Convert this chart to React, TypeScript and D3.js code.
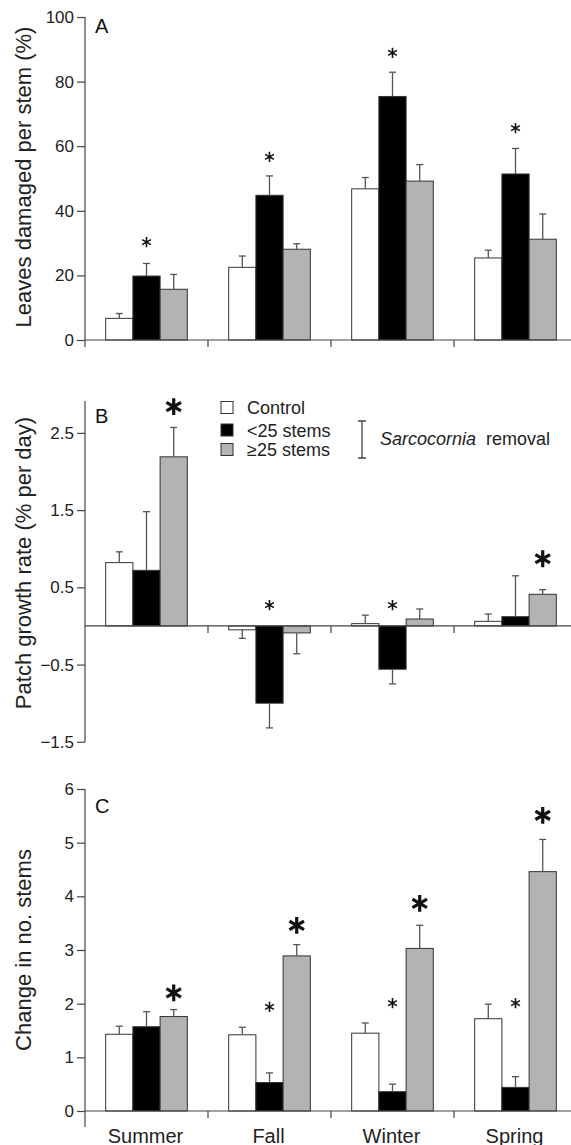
import { useEffect, useRef } from "react";
import * as d3 from "d3";

const seasons = ["Summer", "Fall", "Winter", "Spring"];
const groups = ["Control", "<25 stems", "≥25 stems"];
const groupFill = ["#ffffff", "#000000", "#b3b3b3"];

// A: leaves damaged per stem (%)
const leavesControl = [6.7, 22.5, 46.8, 25.4];
const leavesLow = [19.8, 44.8, 75.4, 51.4];
const leavesHigh = [15.7, 28.1, 49.2, 31.2];
const leavesControlErr = [1.5, 3.5, 3.5, 2.4];
const leavesLowErr = [3.9, 6.0, 7.5, 7.9];
const leavesHighErr = [4.6, 1.7, 5.1, 7.8];

// B: patch growth rate (% per day)
const growthControl = [0.82, -0.05, 0.03, 0.06];
const growthLow = [0.72, -1.0, -0.56, 0.12];
const growthHigh = [2.19, -0.09, 0.09, 0.41];
const growthControlErr = [0.14, 0.11, 0.11, 0.095];
const growthLowErr = [0.76, 0.32, 0.19, 0.53];
const growthHighErr = [0.38, 0.27, 0.13, 0.06];

// C: change in no. stems
const stemsControl = [1.43, 1.42, 1.45, 1.72];
const stemsLow = [1.57, 0.53, 0.36, 0.44];
const stemsHigh = [1.76, 2.89, 3.03, 4.46];
const stemsControlErr = [0.15, 0.14, 0.19, 0.27];
const stemsLowErr = [0.28, 0.18, 0.14, 0.2];
const stemsHighErr = [0.13, 0.21, 0.43, 0.6];

// significance marks: [season, group index, height in data units, big]
type Star = [string, number, number, boolean];
const leavesStars: Star[] = [
  ["Summer", 1, 30.3, false],
  ["Fall", 1, 56.7, false],
  ["Winter", 1, 88.9, false],
  ["Spring", 1, 65.6, false],
];
const growthStars: Star[] = [
  ["Summer", 2, 2.84, true],
  ["Fall", 1, 0.27, false],
  ["Winter", 1, 0.27, false],
  ["Spring", 2, 0.87, true],
];
const stemsStars: Star[] = [
  ["Summer", 2, 2.2, true],
  ["Fall", 1, 1.94, false],
  ["Fall", 2, 3.46, true],
  ["Winter", 1, 2.01, false],
  ["Winter", 2, 3.87, true],
  ["Spring", 1, 2.01, false],
  ["Spring", 2, 5.51, true],
];

const leavesTicks = [0, 20, 40, 60, 80, 100];
const growthTicks = [-1.5, -0.5, 0.5, 1.5, 2.5];
const stemsTicks = [0, 1, 2, 3, 4, 5, 6];

const FONT = "'Liberation Sans', Arial, Helvetica, sans-serif";
const W = 571;
const H = 1145;

export default function App() {
  const svgRef = useRef<SVGSVGElement>(null);

  useEffect(() => {
    const svg = d3.select(svgRef.current);
    svg.selectAll("*").remove();

    const x0 = d3.scaleBand().domain(seasons).range([85, 577]);
    const x1 = d3
      .scaleBand()
      .domain(groups)
      .range([0, x0.step()])
      .paddingInner(0)
      .paddingOuter(0.76);

    const panels = [
      {
        letter: "A",
        means: [leavesControl, leavesLow, leavesHigh],
        errs: [leavesControlErr, leavesLowErr, leavesHighErr],
        stars: leavesStars,
        y: d3.scaleLinear().domain([0, 100]).range([340, 17]),
        ticks: leavesTicks,
        fmt: d3.format("d"),
        axisTop: 17,
        axisBottom: 347,
        title: "Leaves damaged per stem (%)",
        titleY: 177,
        letterY: 33,
      },
      {
        letter: "B",
        means: [growthControl, growthLow, growthHigh],
        errs: [growthControlErr, growthLowErr, growthHighErr],
        stars: growthStars,
        y: d3.scaleLinear().domain([-1.5, 2.9]).range([741.8, 402]),
        ticks: growthTicks,
        fmt: d3.format(".1f"),
        axisTop: 401,
        axisBottom: 742,
        title: "Patch growth rate (% per day)",
        titleY: 563,
        letterY: 423,
      },
      {
        letter: "C",
        means: [stemsControl, stemsLow, stemsHigh],
        errs: [stemsControlErr, stemsLowErr, stemsHighErr],
        stars: stemsStars,
        y: d3.scaleLinear().domain([0, 6]).range([1111, 789]),
        ticks: stemsTicks,
        fmt: d3.format("d"),
        axisTop: 789,
        axisBottom: 1127,
        title: "Change in no. stems",
        titleY: 950,
        letterY: 813,
      },
    ];

    const smallStar = d3.symbol(d3.symbolAsterisk, 72);
    const bigStar = d3.symbol(d3.symbolAsterisk, 200);

    panels.forEach((p) => {
      const g = svg.append("g");
      const y = p.y;
      const y0 = y(0);

      // bars
      p.means.forEach((vals, gi) => {
        g.selectAll(null)
          .data(vals)
          .join("rect")
          .attr("x", (d, i) => x0(seasons[i])! + x1(groups[gi])!)
          .attr("y", (d) => Math.min(y(d), y0))
          .attr("width", x1.bandwidth())
          .attr("height", (d) => Math.abs(y(d) - y0))
          .attr("fill", groupFill[gi])
          .attr("stroke", "#333")
          .attr("stroke-width", 1);

        // error bars
        const errs = p.errs[gi];
        const eg = g
          .selectAll(null)
          .data(vals)
          .join("g")
          .attr("stroke", "#555")
          .attr("stroke-width", 1.3);
        eg.append("line")
          .attr("x1", (d, i) => x0(seasons[i])! + x1(groups[gi])! + x1.bandwidth() / 2)
          .attr("x2", (d, i) => x0(seasons[i])! + x1(groups[gi])! + x1.bandwidth() / 2)
          .attr("y1", (d) => y(d))
          .attr("y2", (d, i) => y(d + (d >= 0 ? 1 : -1) * errs[i]));
        eg.append("line")
          .attr("x1", (d, i) => x0(seasons[i])! + x1(groups[gi])! + x1.bandwidth() / 2 - 3.5)
          .attr("x2", (d, i) => x0(seasons[i])! + x1(groups[gi])! + x1.bandwidth() / 2 + 3.5)
          .attr("y1", (d, i) => y(d + (d >= 0 ? 1 : -1) * errs[i]))
          .attr("y2", (d, i) => y(d + (d >= 0 ? 1 : -1) * errs[i]));
      });

      // x axis line with category separators
      g.append("line")
        .attr("x1", 85)
        .attr("x2", W)
        .attr("y1", y0)
        .attr("y2", y0)
        .attr("stroke", "#444")
        .attr("stroke-width", 1.2);
      g.selectAll(null)
        .data(seasons.slice(1))
        .join("line")
        .attr("x1", (d) => x0(d)!)
        .attr("x2", (d) => x0(d)!)
        .attr("y1", y0)
        .attr("y2", y0 + 7)
        .attr("stroke", "#444")
        .attr("stroke-width", 1.2);

      // y axis
      const axis = g
        .append("g")
        .attr("transform", "translate(85,0)")
        .call(d3.axisLeft(y).tickValues(p.ticks).tickFormat(p.fmt as any).tickSize(8).tickPadding(3));
      axis.select(".domain").remove();
      axis.selectAll(".tick line").attr("stroke", "#444").attr("stroke-width", 1.2);
      axis
        .selectAll(".tick text")
        .attr("font-family", FONT)
        .attr("font-size", 17)
        .attr("fill", "#222");
      g.append("line")
        .attr("x1", 85)
        .attr("x2", 85)
        .attr("y1", p.axisTop)
        .attr("y2", p.axisBottom)
        .attr("stroke", "#444")
        .attr("stroke-width", 1.2);

      // stars
      g.selectAll(null)
        .data(p.stars)
        .join("path")
        .attr("d", (d) => (d[3] ? bigStar() : smallStar()))
        .attr(
          "transform",
          (d) => `translate(${x0(d[0])! + x1(groups[d[1]])! + x1.bandwidth() / 2},${y(d[2])})`
        )
        .attr("fill", "none")
        .attr("stroke", "#111")
        .attr("stroke-width", (d) => (d[3] ? 3.2 : 1.6));

      // panel letter
      g.append("text")
        .attr("x", 95)
        .attr("y", p.letterY)
        .attr("font-family", FONT)
        .attr("font-size", 20)
        .attr("fill", "#111")
        .text(p.letter);

      // y title
      g.append("text")
        .attr("transform", `translate(31,${p.titleY}) rotate(-90)`)
        .attr("text-anchor", "middle")
        .attr("font-family", FONT)
        .attr("font-size", 22)
        .attr("fill", "#222")
        .text(p.title);
    });

    // legend (panel B)
    const lg = svg.append("g");
    const legendY = [407.5, 430, 449.5];
    groups.forEach((name, i) => {
      lg.append("rect")
        .attr("x", 221)
        .attr("y", legendY[i] - 6)
        .attr("width", 12)
        .attr("height", 12)
        .attr("fill", groupFill[i])
        .attr("stroke", "#333")
        .attr("stroke-width", 1);
      lg.append("text")
        .attr("x", 247)
        .attr("y", legendY[i] + 6.5)
        .attr("font-family", FONT)
        .attr("font-size", 18)
        .attr("fill", "#222")
        .text(name);
    });
    lg.append("path")
      .attr("d", "M358,421H366M362,421V458M358,458H366")
      .attr("fill", "none")
      .attr("stroke", "#444")
      .attr("stroke-width", 1.3);
    const rem = lg
      .append("text")
      .attr("x", 380)
      .attr("y", 445)
      .attr("font-family", FONT)
      .attr("font-size", 18)
      .attr("fill", "#222");
    rem.append("tspan").attr("font-style", "italic").text("Sarcocornia");
    rem.append("tspan").attr("dx", 10).text("removal");

    // season labels
    svg
      .append("g")
      .selectAll("text")
      .data(seasons)
      .join("text")
      .attr("x", (d) => x0(d)! + x0.bandwidth() / 2 - 1)
      .attr("y", 1143)
      .attr("text-anchor", "middle")
      .attr("font-family", FONT)
      .attr("font-size", 20)
      .attr("fill", "#222")
      .text((d) => d);
  }, []);

  return (
    <svg
      ref={svgRef}
      width={W}
      height={H}
      style={{ position: "absolute", left: 0, top: 0, background: "#fff" }}
    />
  );
}
